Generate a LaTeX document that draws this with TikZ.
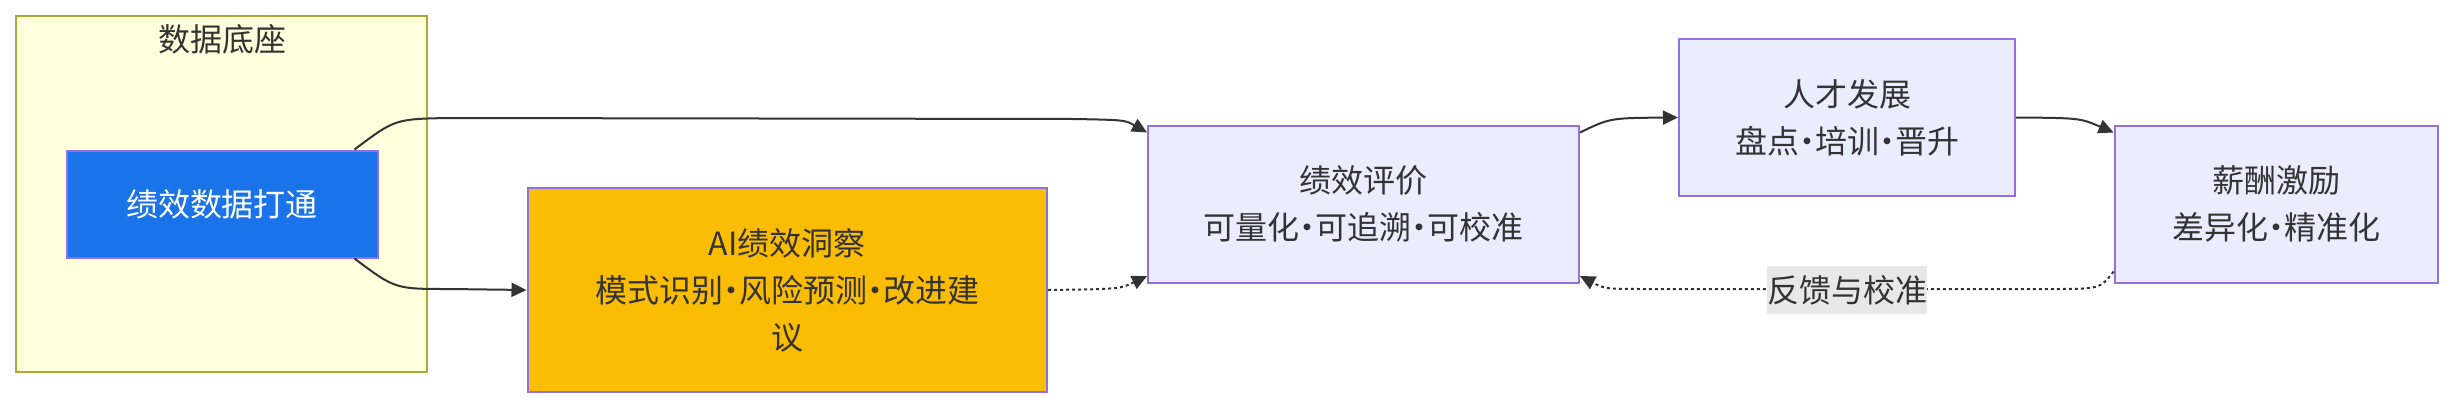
\documentclass[tikz,border=0pt]{standalone}
\usepackage{fontspec}
\setmainfont{Noto Sans CJK SC}
\usetikzlibrary{arrows.meta, positioning}
\definecolor{LineGray}{HTML}{333333}
\definecolor{NodeFill}{HTML}{ECECFF}
\definecolor{NodeEdge}{HTML}{9370DB}
\definecolor{BaseFill}{HTML}{FFFFDE}
\definecolor{BaseEdge}{HTML}{AAAA33}
\definecolor{DataBlue}{HTML}{1A73E8}
\definecolor{InsightGold}{HTML}{FBBC04}
\definecolor{LabelBg}{HTML}{E8E8E8}
\newcommand\mdot{\makebox[0.5em]{·}}

\begin{document}
\begin{tikzpicture}[x=0.5pt,y=-0.5pt,
    box/.style={draw=NodeEdge,fill=NodeFill,line width=1pt,inner sep=0pt,
                align=center,text=LineGray,font=\fontsize{16pt}{23.5pt}\selectfont},
    arrow/.style={-{Triangle[length=7.5pt,width=7pt]},line width=1pt,LineGray},
    dotarrow/.style={arrow,dash pattern=on 1.5pt off 1.5pt}]

    \useasboundingbox (0,0) rectangle (2454,408);

    % Data base cluster
    \node[draw=BaseEdge,fill=BaseFill,line width=1pt,inner sep=0pt,
          minimum width=205.7pt,minimum height=178.2pt] (base) at (221.3,193.8) {};
    \node[text=LineGray,font=\fontsize{16pt}{23.5pt}\selectfont] (basetitle) at (222,39) {数据底座};
    \node[box,fill=DataBlue,text=white,minimum width=155.5pt,minimum height=53.5pt] (data) at (222,204) {绩效数据打通};

    % Nodes
    \node[box,fill=InsightGold,minimum width=259.8pt,minimum height=102pt] (ai) at (787.3,290)
          {AI绩效洞察\\模式识别\mdot 风险预测\mdot 改进建\\议};
    \node[box,minimum width=215.5pt,minimum height=78.5pt] (eval) at (1363.5,204) {绩效评价\\可量化\mdot 可追溯\mdot 可校准};
    \node[box,minimum width=168pt,minimum height=78.5pt] (talent) at (1847,117.5) {人才发展\\盘点\mdot 培训\mdot 晋升};
    \node[box,minimum width=161.7pt,minimum height=78.5pt] (pay) at (2276.3,204) {薪酬激励\\差异化\mdot 精准化};

    % Edges
    \coordinate (up1) at (449,118);
    \coordinate (up2) at (1075,119);
    \coordinate (dn1) at (449,289);
    \coordinate (fb1) at (2050,289);
    \coordinate (fb2) at (1650,289);
    \draw[arrow] ([xshift=-12pt]data.north east) .. controls (395,119) .. (up1) -- (up2)
          .. controls (1125,120) .. ([yshift=-4pt]eval.north west);
    \draw[arrow] ([xshift=-12pt]data.south east) .. controls (395,289) .. (dn1) -- (ai.west);
    \draw[dotarrow] (ai.east) .. controls (1120,289) .. ([yshift=3.75pt]eval.south west);
    \draw[arrow] ([yshift=-4pt]eval.north east) .. controls (1610,118) .. (talent.west);
    \draw[arrow] (talent.east) .. controls (2080,118) .. ([yshift=-4pt]pay.north west);
    \draw[dotarrow] ([yshift=6pt]pay.south west) .. controls (2100,289) .. (fb1) -- (fb2)
          .. controls (1605,289) .. ([yshift=3.75pt]eval.south east);

    % Feedback label
    \node[fill=LabelBg,inner sep=0pt,minimum height=24pt,text=LineGray,
          font=\fontsize{16pt}{23.5pt}\selectfont] (fb) at (1847,290) {反馈与校准};
\end{tikzpicture}
\end{document}
